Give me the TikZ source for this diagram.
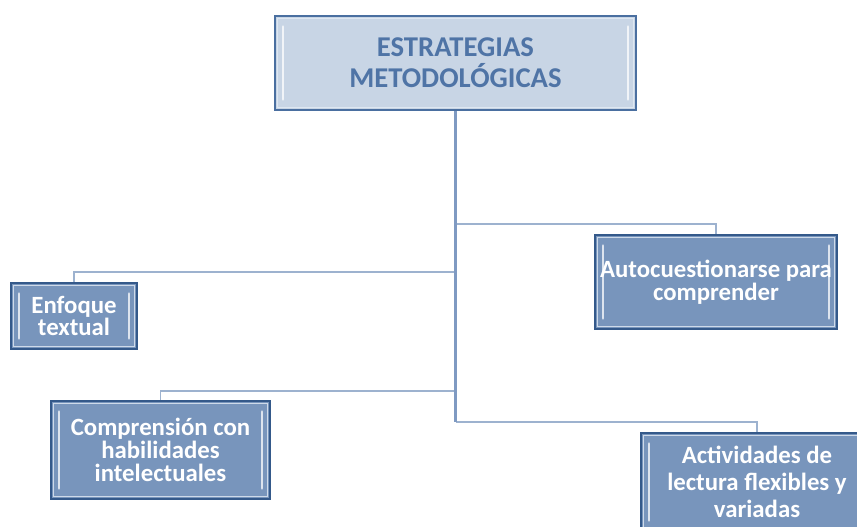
\documentclass[tikz,border=0pt]{standalone}
\usepackage{fontspec}
\setmainfont{Carlito}
\definecolor{boxfill}{HTML}{7895BC}
\definecolor{boxedge}{HTML}{34598A}
\definecolor{titlefill}{HTML}{C8D5E5}
\definecolor{titleedge}{HTML}{4A6FA0}
\definecolor{titletext}{HTML}{4F74A6}
\definecolor{trunkcol}{HTML}{7F9AC2}
\definecolor{branchcol}{HTML}{9DB2CF}
\definecolor{hilite}{HTML}{E4ECF5}
\tikzset{
  bevel/.style={path picture={
    \draw[hilite, line width=0.6pt, opacity=0.8]
      ([shift={(1.8pt,-1.8pt)}]path picture bounding box.north west) rectangle
      ([shift={(-1.8pt,1.8pt)}]path picture bounding box.south east);
    \draw[white, line width=2.2pt, opacity=0.75, line cap=round]
      ([shift={(6pt,-8pt)}]path picture bounding box.north west) --
      ([shift={(6pt,8pt)}]path picture bounding box.south west);
    \draw[white, line width=2.2pt, opacity=0.75, line cap=round]
      ([shift={(-6pt,-8pt)}]path picture bounding box.north east) --
      ([shift={(-6pt,8pt)}]path picture bounding box.south east);
  }},
  titlebox/.style={bevel, draw=titleedge, line width=1.2pt, fill=titlefill,
    text=titletext, font=\bfseries\fontsize{21.5}{23}\selectfont,
    align=center, inner sep=0pt},
  childbox/.style={bevel, draw=boxedge, line width=1.2pt, fill=boxfill,
    text=white, font=\bfseries\fontsize{18.6}{17}\selectfont,
    align=center, inner sep=0pt},
  trunk/.style={draw=trunkcol, line width=2pt},
  branch/.style={draw=branchcol, line width=1.2pt},
}
\begin{document}
\begin{tikzpicture}[x=0.75pt, y=-0.75pt]
\clip (0,0) rectangle (857,527);
\useasboundingbox (0,0) rectangle (857,527);
\fill[white] (0,0) rectangle (857,527);

\node[titlebox, minimum width=361*0.75pt, minimum height=94*0.75pt]
  (title) at (455.5,63) {ESTRATEGIAS\\METODOLÓGICAS};

\node[childbox, minimum width=126*0.75pt, minimum height=66*0.75pt]
  (enf) at (74,316) {Enfoque\\textual};
\node[childbox, minimum width=242*0.75pt, minimum height=94*0.75pt]
  (auto) at (716,282) {Autocuestionarse para\\comprender};
\node[childbox, minimum width=219*0.75pt, minimum height=98*0.75pt]
  (comp) at (160.5,450) {Comprensión con\\habilidades\\intelectuales};
\node[childbox, minimum width=232*0.75pt, minimum height=98*0.75pt,
  font=\bfseries\fontsize{18.6}{20.5}\selectfont]
  (act) at (757,482) {Actividades de\\lectura flexibles y\\variadas};

\coordinate (j1) at (455.5,224);
\coordinate (j2) at (455.5,272);
\coordinate (j3) at (455.5,391);
\coordinate (j4) at (455.5,422);

\draw[branch] (j1) -| (auto.north);
\draw[branch] (j2) -| (enf.north);
\draw[branch] (j3) -| (comp.north);
\draw[branch] (j4) -| (act.north);
\draw[trunk] (title.south) -- (j4);
\end{tikzpicture}
\end{document}
